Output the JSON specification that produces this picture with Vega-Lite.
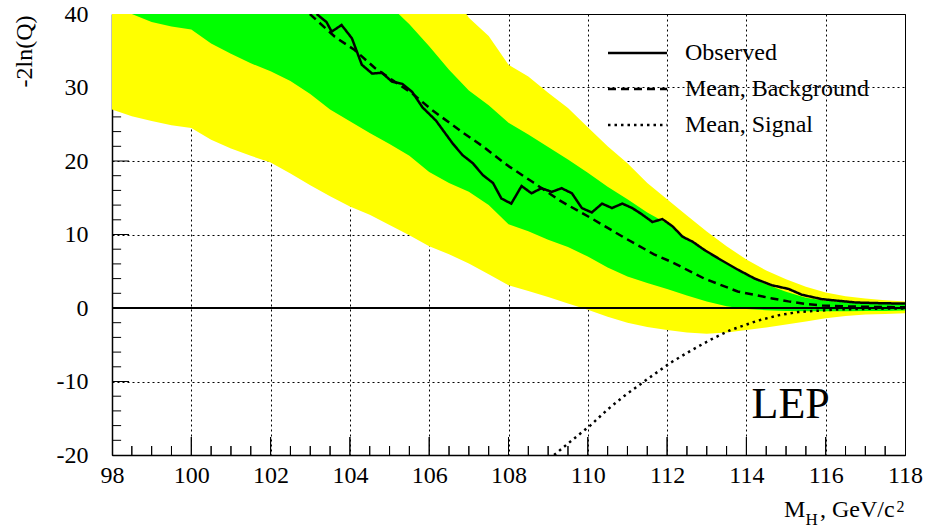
{
  "$schema": "https://vega.github.io/schema/vega-lite/v6.json",
  "width": 793,
  "height": 441,
  "autosize": {"type": "none"},
  "padding": {"left": 112, "top": 14, "right": 21, "bottom": 74},
  "background": "white",
  "config": {
    "view": {"stroke": "black", "strokeWidth": 1},
    "font": "Liberation Serif",
    "axis": {
      "labelFont": "Liberation Serif",
      "labelFontSize": 24,
      "labelColor": "black",
      "labelFlush": false,
      "labelOverlap": false,
      "domainColor": "black",
      "domainWidth": 1.5,
      "ticks": false,
      "grid": true,
      "gridColor": "black",
      "gridDash": [2, 3],
      "gridWidth": 1,
      "gridOpacity": 1,
      "titleFont": "Liberation Serif",
      "titleFontWeight": "normal",
      "titleColor": "black"
    },
    "legend": {
      "orient": "none",
      "legendX": 513.5,
      "legendY": 27,
      "padding": 0,
      "labelFont": "Liberation Serif",
      "labelFontSize": 24,
      "labelColor": "black",
      "labelLimit": 400,
      "labelOffset": 35.5,
      "rowPadding": 12,
      "symbolSize": 441,
      "symbolStrokeWidth": 2.5,
      "symbolStrokeColor": "black",
      "symbolFillColor": "transparent"
    }
  },
  "datasets": {
    "bands": [
      {"m": 98, "y2lo": 27.0, "y1lo": 41.2, "y1hi": 70, "y2hi": 95},
      {"m": 98.5, "y2lo": 26.1, "y1lo": 40.0, "y1hi": 68, "y2hi": 93},
      {"m": 99, "y2lo": 25.45, "y1lo": 38.9, "y1hi": 66, "y2hi": 91},
      {"m": 99.5, "y2lo": 24.85, "y1lo": 38.3, "y1hi": 64, "y2hi": 89},
      {"m": 100, "y2lo": 24.5, "y1lo": 37.9, "y1hi": 62, "y2hi": 86},
      {"m": 100.5, "y2lo": 22.9, "y1lo": 36.0, "y1hi": 60, "y2hi": 84},
      {"m": 101, "y2lo": 21.7, "y1lo": 34.6, "y1hi": 58, "y2hi": 81},
      {"m": 101.5, "y2lo": 20.7, "y1lo": 33.3, "y1hi": 56, "y2hi": 78},
      {"m": 102, "y2lo": 19.8, "y1lo": 32.2, "y1hi": 54, "y2hi": 75},
      {"m": 102.5, "y2lo": 18.3, "y1lo": 30.9, "y1hi": 52, "y2hi": 72},
      {"m": 103, "y2lo": 16.7, "y1lo": 29.1, "y1hi": 50, "y2hi": 69},
      {"m": 103.5, "y2lo": 15.2, "y1lo": 27.0, "y1hi": 48.5, "y2hi": 66},
      {"m": 104, "y2lo": 13.8, "y1lo": 25.4, "y1hi": 46.5, "y2hi": 63},
      {"m": 104.5, "y2lo": 12.7, "y1lo": 23.8, "y1hi": 43.8, "y2hi": 58},
      {"m": 105, "y2lo": 11.3, "y1lo": 22.3, "y1hi": 41.2, "y2hi": 54},
      {"m": 105.5, "y2lo": 9.9, "y1lo": 20.7, "y1hi": 38.6, "y2hi": 51},
      {"m": 106, "y2lo": 8.4, "y1lo": 18.5, "y1hi": 35.6, "y2hi": 47},
      {"m": 106.5, "y2lo": 7.3, "y1lo": 17.0, "y1hi": 32.4, "y2hi": 43.5},
      {"m": 107, "y2lo": 6.05, "y1lo": 15.8, "y1hi": 29.6, "y2hi": 39.5},
      {"m": 107.5, "y2lo": 4.6, "y1lo": 14.0, "y1hi": 27.6, "y2hi": 37.0},
      {"m": 108, "y2lo": 3.1, "y1lo": 11.4, "y1hi": 25.2, "y2hi": 33.1},
      {"m": 108.5, "y2lo": 2.3, "y1lo": 10.45, "y1hi": 23.6, "y2hi": 31.5},
      {"m": 109, "y2lo": 1.5, "y1lo": 9.3, "y1hi": 21.9, "y2hi": 29.3},
      {"m": 109.5, "y2lo": 0.6, "y1lo": 8.3, "y1hi": 20.2, "y2hi": 27.2},
      {"m": 110, "y2lo": -0.25, "y1lo": 7.0, "y1hi": 18.4, "y2hi": 24.6},
      {"m": 110.5, "y2lo": -1.2, "y1lo": 5.5, "y1hi": 16.5, "y2hi": 22.0},
      {"m": 111, "y2lo": -2.0, "y1lo": 4.3, "y1hi": 14.8, "y2hi": 19.7},
      {"m": 111.5, "y2lo": -2.6, "y1lo": 3.4, "y1hi": 13.0, "y2hi": 17.0},
      {"m": 112, "y2lo": -3.0, "y1lo": 2.6, "y1hi": 11.5, "y2hi": 14.8},
      {"m": 112.5, "y2lo": -3.35, "y1lo": 1.7, "y1hi": 9.5, "y2hi": 12.6},
      {"m": 113, "y2lo": -3.5, "y1lo": 0.9, "y1hi": 7.6, "y2hi": 10.4},
      {"m": 113.5, "y2lo": -3.35, "y1lo": 0.25, "y1hi": 6.0, "y2hi": 8.4},
      {"m": 114, "y2lo": -3.0, "y1lo": -0.15, "y1hi": 4.5, "y2hi": 6.6},
      {"m": 114.5, "y2lo": -2.65, "y1lo": -0.3, "y1hi": 3.2, "y2hi": 5.1},
      {"m": 115, "y2lo": -2.25, "y1lo": -0.4, "y1hi": 2.2, "y2hi": 3.9},
      {"m": 115.5, "y2lo": -1.85, "y1lo": -0.45, "y1hi": 1.4, "y2hi": 2.9},
      {"m": 116, "y2lo": -1.4, "y1lo": -0.45, "y1hi": 1.0, "y2hi": 2.1},
      {"m": 116.5, "y2lo": -1.1, "y1lo": -0.45, "y1hi": 0.8, "y2hi": 1.6},
      {"m": 117, "y2lo": -0.9, "y1lo": -0.4, "y1hi": 0.7, "y2hi": 1.3},
      {"m": 117.5, "y2lo": -0.8, "y1lo": -0.4, "y1hi": 0.65, "y2hi": 1.05},
      {"m": 118, "y2lo": -0.7, "y1lo": -0.35, "y1hi": 0.6, "y2hi": 0.9}
    ],
    "curves": [
      {"series": "Observed", "m": 103.16, "v": 40.0},
      {"series": "Observed", "m": 103.41, "v": 38.9},
      {"series": "Observed", "m": 103.54, "v": 37.6},
      {"series": "Observed", "m": 103.79, "v": 38.5},
      {"series": "Observed", "m": 104.05, "v": 36.7},
      {"series": "Observed", "m": 104.3, "v": 33.1},
      {"series": "Observed", "m": 104.56, "v": 31.9},
      {"series": "Observed", "m": 104.81, "v": 32.0},
      {"series": "Observed", "m": 105.06, "v": 30.8},
      {"series": "Observed", "m": 105.32, "v": 30.5},
      {"series": "Observed", "m": 105.57, "v": 29.4},
      {"series": "Observed", "m": 105.83, "v": 27.3},
      {"series": "Observed", "m": 106.17, "v": 25.5},
      {"series": "Observed", "m": 106.59, "v": 22.4},
      {"series": "Observed", "m": 106.84, "v": 20.8},
      {"series": "Observed", "m": 107.1, "v": 19.7},
      {"series": "Observed", "m": 107.35, "v": 18.1},
      {"series": "Observed", "m": 107.61, "v": 17.0},
      {"series": "Observed", "m": 107.82, "v": 14.9},
      {"series": "Observed", "m": 108.07, "v": 14.2},
      {"series": "Observed", "m": 108.33, "v": 16.6},
      {"series": "Observed", "m": 108.58, "v": 15.6},
      {"series": "Observed", "m": 108.83, "v": 16.3},
      {"series": "Observed", "m": 109.09, "v": 15.8},
      {"series": "Observed", "m": 109.34, "v": 16.3},
      {"series": "Observed", "m": 109.6, "v": 15.6},
      {"series": "Observed", "m": 109.85, "v": 13.6},
      {"series": "Observed", "m": 110.1, "v": 13.0},
      {"series": "Observed", "m": 110.36, "v": 14.2},
      {"series": "Observed", "m": 110.61, "v": 13.6},
      {"series": "Observed", "m": 110.87, "v": 14.2},
      {"series": "Observed", "m": 111.12, "v": 13.6},
      {"series": "Observed", "m": 111.35, "v": 12.8},
      {"series": "Observed", "m": 111.63, "v": 11.7},
      {"series": "Observed", "m": 111.88, "v": 12.1},
      {"series": "Observed", "m": 112.14, "v": 11.1},
      {"series": "Observed", "m": 112.39, "v": 9.7},
      {"series": "Observed", "m": 112.65, "v": 9.0},
      {"series": "Observed", "m": 112.94, "v": 7.9},
      {"series": "Observed", "m": 113.37, "v": 6.5},
      {"series": "Observed", "m": 113.79, "v": 5.2},
      {"series": "Observed", "m": 114.21, "v": 4.0},
      {"series": "Observed", "m": 114.64, "v": 3.1},
      {"series": "Observed", "m": 115.06, "v": 2.6},
      {"series": "Observed", "m": 115.4, "v": 1.8},
      {"series": "Observed", "m": 115.91, "v": 1.2},
      {"series": "Observed", "m": 116.76, "v": 0.75},
      {"series": "Observed", "m": 117.4, "v": 0.65},
      {"series": "Observed", "m": 118, "v": 0.6},
      {"series": "Mean, Background", "m": 102.99, "v": 40.0},
      {"series": "Mean, Background", "m": 103.62, "v": 36.9},
      {"series": "Mean, Background", "m": 104.12, "v": 35.1},
      {"series": "Mean, Background", "m": 104.63, "v": 32.65},
      {"series": "Mean, Background", "m": 105.1, "v": 30.9},
      {"series": "Mean, Background", "m": 105.57, "v": 29.2},
      {"series": "Mean, Background", "m": 106.08, "v": 26.9},
      {"series": "Mean, Background", "m": 106.51, "v": 25.2},
      {"series": "Mean, Background", "m": 106.84, "v": 23.9},
      {"series": "Mean, Background", "m": 107.35, "v": 22.0},
      {"series": "Mean, Background", "m": 107.61, "v": 20.9},
      {"series": "Mean, Background", "m": 108.03, "v": 19.2},
      {"series": "Mean, Background", "m": 108.62, "v": 17.1},
      {"series": "Mean, Background", "m": 109.3, "v": 14.6},
      {"series": "Mean, Background", "m": 110.06, "v": 12.3},
      {"series": "Mean, Background", "m": 110.91, "v": 9.6},
      {"series": "Mean, Background", "m": 111.24, "v": 8.6},
      {"series": "Mean, Background", "m": 111.67, "v": 7.3},
      {"series": "Mean, Background", "m": 112.1, "v": 6.3},
      {"series": "Mean, Background", "m": 112.94, "v": 4.0},
      {"series": "Mean, Background", "m": 113.78, "v": 2.25},
      {"series": "Mean, Background", "m": 114.65, "v": 1.3},
      {"series": "Mean, Background", "m": 115.06, "v": 0.9},
      {"series": "Mean, Background", "m": 115.49, "v": 0.55},
      {"series": "Mean, Background", "m": 115.91, "v": 0.35},
      {"series": "Mean, Background", "m": 116.5, "v": 0.22},
      {"series": "Mean, Background", "m": 117.2, "v": 0.15},
      {"series": "Mean, Background", "m": 118, "v": 0.1},
      {"series": "Mean, Signal", "m": 109.15, "v": -20.0},
      {"series": "Mean, Signal", "m": 109.6, "v": -18.0},
      {"series": "Mean, Signal", "m": 110.06, "v": -16.0},
      {"series": "Mean, Signal", "m": 110.5, "v": -13.8},
      {"series": "Mean, Signal", "m": 110.91, "v": -12.0},
      {"series": "Mean, Signal", "m": 111.42, "v": -10.0},
      {"series": "Mean, Signal", "m": 112.1, "v": -7.4},
      {"series": "Mean, Signal", "m": 112.6, "v": -5.8},
      {"series": "Mean, Signal", "m": 113.1, "v": -4.3},
      {"series": "Mean, Signal", "m": 113.6, "v": -3.0},
      {"series": "Mean, Signal", "m": 114.3, "v": -1.7},
      {"series": "Mean, Signal", "m": 114.8, "v": -1.0},
      {"series": "Mean, Signal", "m": 115.3, "v": -0.55},
      {"series": "Mean, Signal", "m": 116.3, "v": -0.2},
      {"series": "Mean, Signal", "m": 117.2, "v": -0.1},
      {"series": "Mean, Signal", "m": 118, "v": -0.05}
    ],
    "xminor": [
      {"t": 98.5}, {"t": 99}, {"t": 99.5}, {"t": 100.5}, {"t": 101}, {"t": 101.5},
      {"t": 102.5}, {"t": 103}, {"t": 103.5}, {"t": 104.5}, {"t": 105}, {"t": 105.5},
      {"t": 106.5}, {"t": 107}, {"t": 107.5}, {"t": 108.5}, {"t": 109}, {"t": 109.5},
      {"t": 110.5}, {"t": 111}, {"t": 111.5}, {"t": 112.5}, {"t": 113}, {"t": 113.5},
      {"t": 114.5}, {"t": 115}, {"t": 115.5}, {"t": 116.5}, {"t": 117}, {"t": 117.5}
    ],
    "xmajor": [
      {"t": 100}, {"t": 102}, {"t": 104}, {"t": 106}, {"t": 108}, {"t": 110}, {"t": 112}, {"t": 114}, {"t": 116}
    ],
    "yminor": [
      {"t": -18}, {"t": -16}, {"t": -14}, {"t": -12}, {"t": -8}, {"t": -6}, {"t": -4}, {"t": -2},
      {"t": 2}, {"t": 4}, {"t": 6}, {"t": 8}, {"t": 12}, {"t": 14}, {"t": 16}, {"t": 18},
      {"t": 22}, {"t": 24}, {"t": 26}, {"t": 28}, {"t": 32}, {"t": 34}, {"t": 36}, {"t": 38}
    ],
    "ymajor": [
      {"t": -10}, {"t": 0}, {"t": 10}, {"t": 20}, {"t": 30}
    ]
  },
  "layer": [
    {
      "data": {"name": "yminor"},
      "mark": {"type": "rule", "color": "black", "strokeWidth": 1},
      "encoding": {
        "y": {"field": "t", "type": "quantitative", "scale": {"domain": [-20, 40], "nice": false, "zero": false},
              "axis": {"values": [-20, -10, 0, 10, 20, 30, 40], "labelPadding": 24,
                       "labelExpr": "'' + datum.value",
                       "title": "-2ln(Q)", "titleFontSize": 24, "titleAngle": -90, "titleX": -88, "titleY": 1,
                       "titleAlign": "right", "titleBaseline": "middle"}},
        "x": {"datum": 98, "type": "quantitative", "scale": {"domain": [98, 118], "nice": false, "zero": false, "padding": 0},
              "axis": {"values": [98, 100, 102, 104, 106, 108, 110, 112, 114, 116, 118], "labelPadding": 8, "title": null}},
        "x2": {"datum": 98.23}
      }
    },
    {
      "data": {"name": "ymajor"},
      "mark": {"type": "rule", "color": "black", "strokeWidth": 1},
      "encoding": {
        "y": {"field": "t", "type": "quantitative"},
        "x": {"datum": 98, "type": "quantitative"},
        "x2": {"datum": 98.43}
      }
    },
    {
      "data": {"name": "xminor"},
      "mark": {"type": "bar", "color": "black", "size": 1, "opacity": 1},
      "encoding": {
        "x": {"field": "t", "type": "quantitative", "stack": null},
        "y": {"datum": -18.78, "type": "quantitative", "stack": null},
        "y2": {"datum": -20}
      }
    },
    {
      "data": {"name": "xmajor"},
      "mark": {"type": "bar", "color": "black", "size": 1, "opacity": 1},
      "encoding": {
        "x": {"field": "t", "type": "quantitative", "stack": null},
        "y": {"datum": -17.55, "type": "quantitative", "stack": null},
        "y2": {"datum": -20}
      }
    },
    {
      "data": {"name": "xminor"},
      "mark": {"type": "rule", "color": "black", "strokeWidth": 1},
      "encoding": {
        "x": {"field": "t", "type": "quantitative"},
        "y": {"datum": -18.78, "type": "quantitative"},
        "y2": {"datum": -20}
      }
    },
    {
      "data": {"name": "xmajor"},
      "mark": {"type": "rule", "color": "black", "strokeWidth": 1},
      "encoding": {
        "x": {"field": "t", "type": "quantitative"},
        "y": {"datum": -17.55, "type": "quantitative"},
        "y2": {"datum": -20}
      }
    },
    {
      "data": {"name": "bands"},
      "mark": {"type": "area", "color": "#ffff00", "opacity": 1, "clip": true},
      "encoding": {
        "x": {"field": "m", "type": "quantitative"},
        "y": {"field": "y2lo", "type": "quantitative"},
        "y2": {"field": "y2hi"}
      }
    },
    {
      "data": {"name": "bands"},
      "mark": {"type": "area", "color": "#00ff00", "opacity": 1, "clip": true},
      "encoding": {
        "x": {"field": "m", "type": "quantitative"},
        "y": {"field": "y1lo", "type": "quantitative"},
        "y2": {"field": "y1hi"}
      }
    },
    {
      "data": {"values": [{}]},
      "mark": {"type": "rule", "color": "black", "strokeWidth": 2.2},
      "encoding": {"y": {"datum": 0, "type": "quantitative"}}
    },
    {
      "data": {"name": "curves"},
      "mark": {"type": "line", "color": "black", "strokeWidth": 2.5, "clip": true},
      "encoding": {
        "x": {"field": "m", "type": "quantitative"},
        "y": {"field": "v", "type": "quantitative"},
        "strokeDash": {
          "field": "series", "type": "nominal",
          "scale": {"domain": ["Observed", "Mean, Background", "Mean, Signal"], "range": [[1, 0], [8, 5], [2.5, 4]]},
          "legend": {"title": null, "symbolType": "M-2.81,0H2.81", "symbolSize": 441, "symbolStrokeWidth": 2.5, "symbolStrokeColor": "black", "symbolFillColor": "transparent"}
        }
      }
    },
    {
      "data": {"values": [{}]},
      "mark": {"type": "text", "text": "LEP", "font": "Liberation Serif", "fontSize": 44, "align": "left", "baseline": "alphabetic", "color": "black"},
      "encoding": {"x": {"datum": 114.13, "type": "quantitative"}, "y": {"datum": -15, "type": "quantitative"}}
    },
    {
      "data": {"values": [{}]},
      "mark": {"type": "text", "text": "M", "font": "Liberation Serif", "fontSize": 24, "align": "left", "baseline": "alphabetic", "color": "black", "dx": -121, "dy": 62},
      "encoding": {"x": {"datum": 118, "type": "quantitative"}, "y": {"datum": -20, "type": "quantitative"}}
    },
    {
      "data": {"values": [{}]},
      "mark": {"type": "text", "text": "H", "font": "Liberation Serif", "fontSize": 17, "align": "left", "baseline": "alphabetic", "color": "black", "dx": -99.5, "dy": 70},
      "encoding": {"x": {"datum": 118, "type": "quantitative"}, "y": {"datum": -20, "type": "quantitative"}}
    },
    {
      "data": {"values": [{}]},
      "mark": {"type": "text", "text": ", GeV/c", "font": "Liberation Serif", "fontSize": 24, "align": "left", "baseline": "alphabetic", "color": "black", "dx": -85, "dy": 62},
      "encoding": {"x": {"datum": 118, "type": "quantitative"}, "y": {"datum": -20, "type": "quantitative"}}
    },
    {
      "data": {"values": [{}]},
      "mark": {"type": "text", "text": "2", "font": "Liberation Serif", "fontSize": 16, "align": "left", "baseline": "alphabetic", "color": "black", "dx": -8.5, "dy": 56.5},
      "encoding": {"x": {"datum": 118, "type": "quantitative"}, "y": {"datum": -20, "type": "quantitative"}}
    }
  ]
}
